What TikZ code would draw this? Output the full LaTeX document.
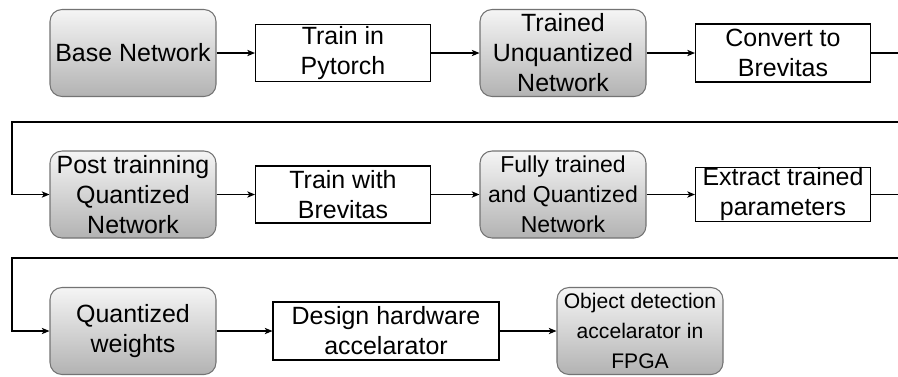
\documentclass[tikz,border=0pt]{standalone}
\usepackage{fontspec}
\setmainfont{Liberation Sans}
\usetikzlibrary{arrows.meta}
\tikzset{%
  >={Stealth[width=3.6pt,length=4.4pt,inset=1.2pt]},
  % Specifications for style of nodes:
            base/.style = {rectangle, draw=black, line width=0.6pt,
                           align=center, inner sep=0pt},
        netbox/.style = {base, rounded corners=0.24cm, draw=black!55,
                           top color=black!4, bottom color=black!30,
                           minimum width=3.32cm, minimum height=1.74cm},
       stepbox/.style = {base, fill=white,
                           minimum width=3.5cm, minimum height=1.14cm},
}

\begin{document}
\begin{tikzpicture}[node distance=4.4cm, line width=0.6pt,
    every node/.style={font=\fontsize{14.2}{17.1}\selectfont}]
  \useasboundingbox (0,0) rectangle (17.96,-7.52);
  % Specification of nodes (position, etc.)

  % first row
  \node (basenet)   [netbox] at (2.66,-1.06) {Base Network};
  \node (pytorch)   [stepbox, right of=basenet, xshift=-0.2cm] {Train in\\Pytorch};
  \node (unquant)   [netbox, right of=pytorch] {Trained\\Unquantized\\Network};
  \node (convert)   [stepbox, right of=unquant, minimum height=1.16cm] {Convert to\\Brevitas};
  % second row
  \node (postquant) [netbox] at (2.66,-3.89) {Post trainning\\Quantized\\Network};
  \node (brevitas)  [stepbox, right of=postquant, xshift=-0.2cm] {Train with\\Brevitas};
  \node (fullquant) [netbox, right of=brevitas,
                     font=\fontsize{13.1}{17.1}\selectfont] {Fully trained\\and Quantized\\Network};
  \node (extract)   [stepbox, right of=fullquant, minimum height=1.04cm] {Extract trained\\parameters};
  % third row
  \node (qweights)  [netbox] at (2.66,-6.62) {Quantized\\weights};
  \node (hwdesign)  [stepbox, right of=qweights, xshift=0.66cm,
                     minimum width=4.52cm, minimum height=1.16cm] {Design hardware\\accelarator};
  \node (fpga)      [netbox, right of=hwdesign, xshift=0.68cm,
                     font=\fontsize{12}{17.1}\selectfont] {Object detection\\accelarator in\\FPGA};

  % turning points of the lines that wrap to the next row
  \coordinate (wrapA) at (18.1,-2.44);
  \coordinate (wrapB) at (0.24,-2.44);
  \coordinate (wrapC) at (18.1,-5.16);
  \coordinate (wrapD) at (0.24,-5.16);

  \draw[->] (basenet) -- (pytorch);
  \draw[->] (pytorch) -- (unquant);
  \draw[->] (unquant) -- (convert);
  \draw[->] (convert.east) -| (wrapA) -- (wrapB) |- (postquant.west);
  \draw[->] (postquant) -- (brevitas);
  \draw[->] (brevitas) -- (fullquant);
  \draw[->] (fullquant) -- (extract);
  \draw[->] (extract.east) -| (wrapC) -- (wrapD) |- (qweights.west);
  \draw[->] (qweights) -- (hwdesign);
  \draw[->] (hwdesign) -- (fpga);
\end{tikzpicture}
\end{document}
